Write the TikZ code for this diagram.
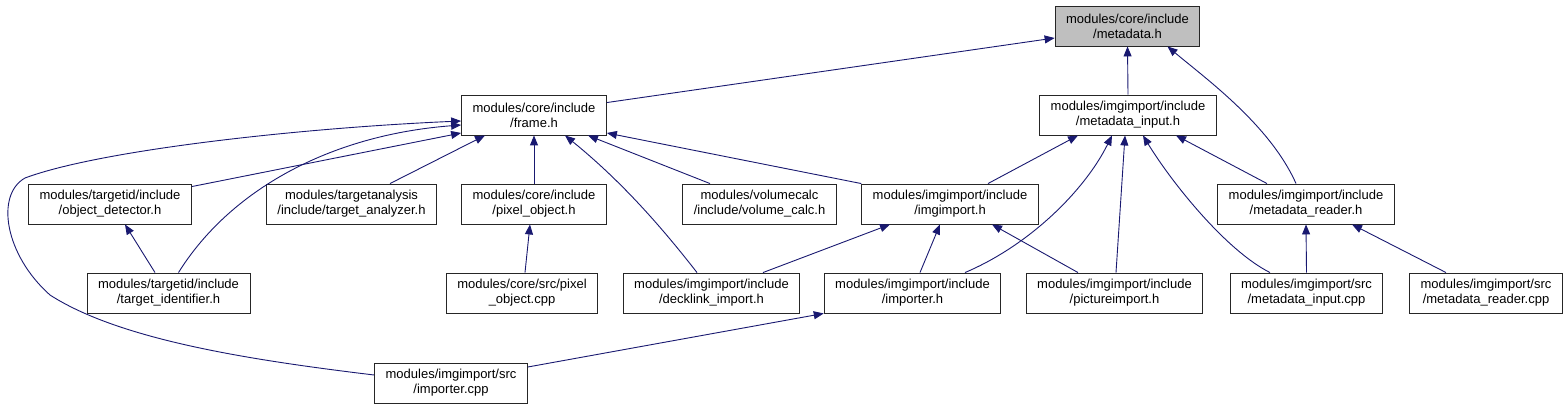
\documentclass[tikz,border=0pt]{standalone}
\usepackage{fontspec}
\setmainfont{Liberation Sans}
\usetikzlibrary{arrows.meta}
\definecolor{edgeblue}{RGB}{25,25,112}
\definecolor{rootgray}{RGB}{191,191,191}

\begin{document}
\begin{tikzpicture}[x=1pt,y=-1pt,
                    every node/.style={font=\fontsize{13}{15}\selectfont},
                    file/.style={draw=black!85,fill=white,align=center,line width=0.9pt,
                                 inner xsep=11pt,inner ysep=2pt,minimum height=40pt},
                    dep/.style={draw=edgeblue,line width=0.9pt,
                                -{Triangle[length=10pt,width=8pt]}}]
\useasboundingbox (0,0) rectangle (1566,409);
\node[file,fill=rootgray] (meta)      at (1127.5,26) {modules/core/include\\/metadata.h};
\node[file]               (frame)     at (534,115)   {modules/core/include\\/frame.h};
\node[file]               (metain)    at (1128,115)  {modules/imgimport/include\\/metadata\_input.h};
\node[file]               (objdet)    at (110,204)   {modules/targetid/include\\/object\_detector.h};
\node[file]               (tanalyzer) at (351.5,204) {modules/targetanalysis\\/include/target\_analyzer.h};
\node[file]               (pixobj)    at (534,204)   {modules/core/include\\/pixel\_object.h};
\node[file]               (volcalc)   at (759.5,204) {modules/volumecalc\\/include/volume\_calc.h};
\node[file]               (imgimp)    at (950,204)   {modules/imgimport/include\\/imgimport.h};
\node[file]               (metareader) at (1306,204) {modules/imgimport/include\\/metadata\_reader.h};
\node[file]               (tident)    at (168.5,293) {modules/targetid/include\\/target\_identifier.h};
\node[file]               (pixcpp)    at (522,293)   {modules/core/src/pixel\\\_object.cpp};
\node[file]               (decklink)  at (711.5,293) {modules/imgimport/include\\/decklink\_import.h};
\node[file]               (importer)  at (912.5,293) {modules/imgimport/include\\/importer.h};
\node[file]               (pictimp)   at (1114.5,293) {modules/imgimport/include\\/pictureimport.h};
\node[file]               (metaincpp) at (1306.5,293) {modules/imgimport/src\\/metadata\_input.cpp};
\node[file]               (metareadcpp) at (1486,293) {modules/imgimport/src\\/metadata\_reader.cpp};
\node[file]               (impcpp)    at (451,383)   {modules/imgimport/src\\/importer.cpp};

\draw[dep] ([yshift=-8pt]frame.north east) -- ([yshift=-12pt]meta.west);
\draw[dep] (metain.north) -- (meta.south);
\draw[dep] ([xshift=-10pt]metareader.north) .. controls (1270,125) and (1205,78) .. ([xshift=40pt]meta.south);
\draw[dep] ([yshift=-3pt]objdet.north east) -- ([yshift=-18pt]frame.west);
\draw[dep] ([xshift=10pt]tident.north) .. controls (230,190) and (330,135) .. ([yshift=-10pt]frame.west);
\draw[dep] ([yshift=8pt]impcpp.west) .. controls (250,360) and (120,340) .. (50,295)
           .. controls (5,255) and (-5,195) .. (25,178)
           .. controls (100,150) and (300,128) .. ([yshift=-6pt]frame.west);
\draw[dep] ([xshift=38.5pt]tanalyzer.north) -- ([xshift=-49pt]frame.south);
\draw[dep] (pixobj.north) -- (frame.south);
\draw[dep] ([xshift=-14.5pt]decklink.north) .. controls (660,225) and (620,180) .. ([xshift=31pt]frame.south);
\draw[dep] ([xshift=-49.5pt]volcalc.north) -- ([xshift=54pt]frame.south);
\draw[dep] (imgimp.north west) -- ([yshift=-18pt]frame.east);
\draw[dep] ([xshift=-13.5pt]tident.north) -- ([xshift=15pt]objdet.south);
\draw[dep] ([xshift=3pt]pixcpp.north) -- ([xshift=-4pt]pixobj.south);
\draw[dep] ([xshift=38pt]imgimp.north) -- ([xshift=-50pt]metain.south);
\draw[dep] ([xshift=52.5pt]importer.north) .. controls (1030,245) and (1085,190) .. ([xshift=-16pt]metain.south);
\draw[dep] ([xshift=1.5pt]pictimp.north) -- ([xshift=-3pt]metain.south);
\draw[dep] ([xshift=-36.5pt]metaincpp.north) .. controls (1225,250) and (1170,180) .. ([xshift=15pt]metain.south);
\draw[dep] ([xshift=-39pt]metareader.north) -- ([xshift=48pt]metain.south);
\draw[dep] ([xshift=51.5pt]decklink.north) -- ([xshift=-60pt]imgimp.south);
\draw[dep] ([xshift=7.5pt]importer.north) -- ([xshift=-10pt]imgimp.south);
\draw[dep] ([xshift=-36.5pt]pictimp.north) -- ([xshift=42pt]imgimp.south);
\draw[dep] (metaincpp.north) -- (metareader.south);
\draw[dep] ([xshift=-40pt]metareadcpp.north) -- ([xshift=46pt]metareader.south);
\draw[dep] ([yshift=16pt]impcpp.east) -- (importer.south west);
\end{tikzpicture}
\end{document}
